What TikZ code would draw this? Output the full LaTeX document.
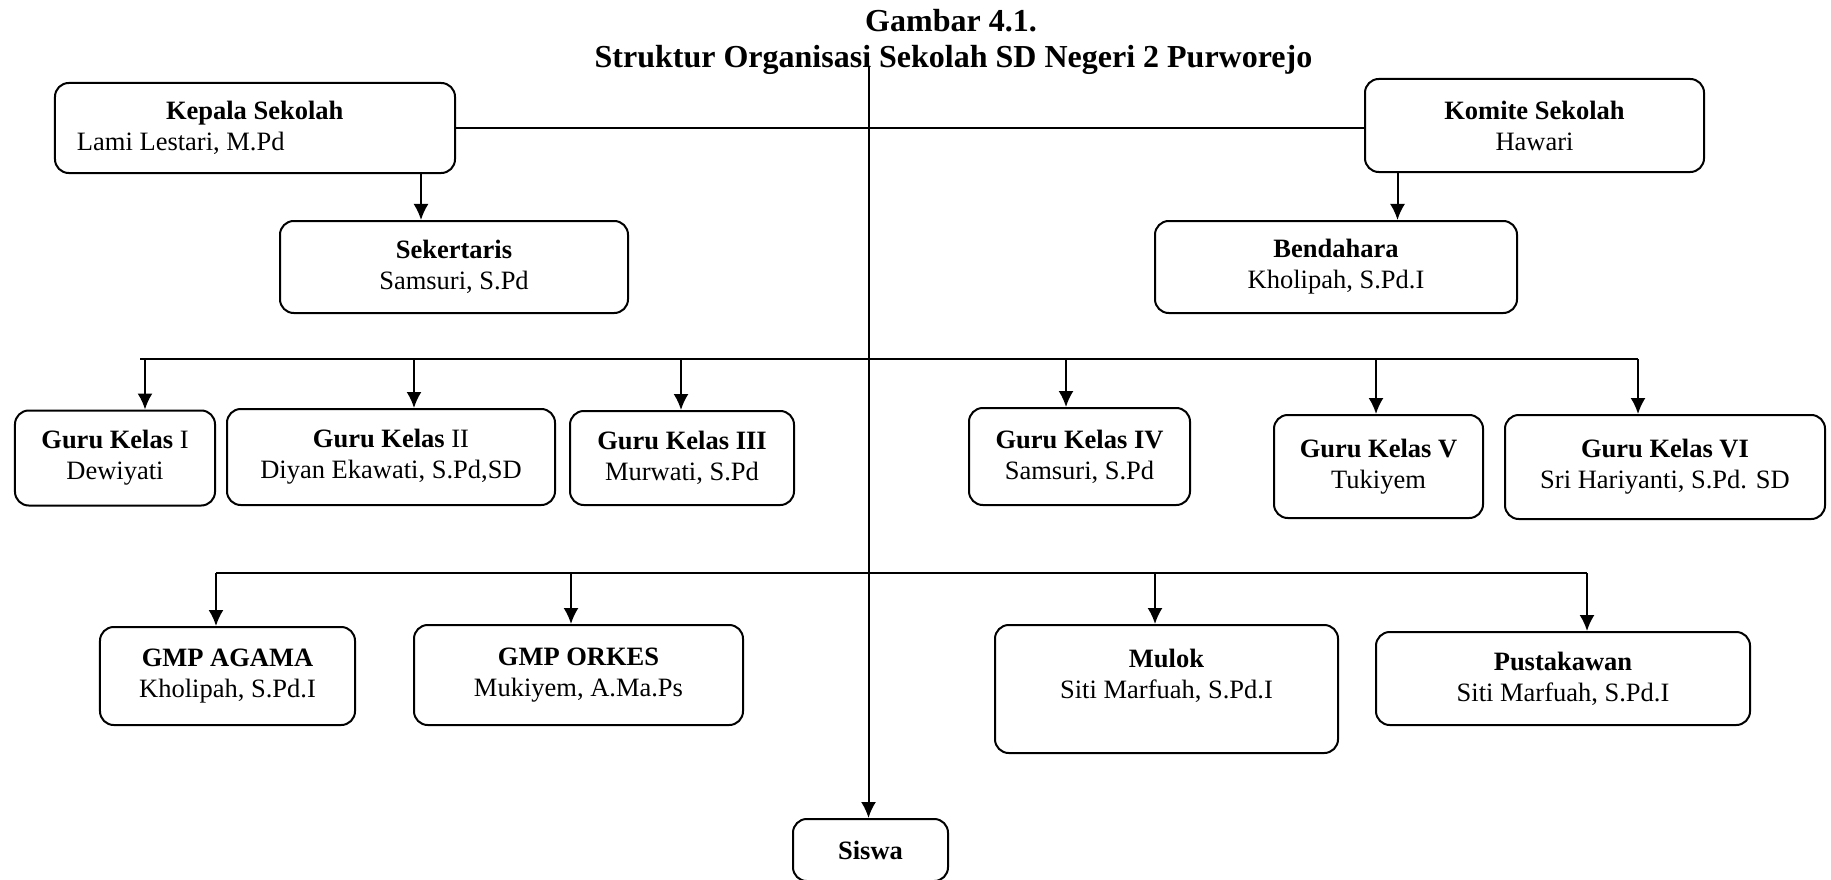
\documentclass[tikz,border=0pt]{standalone}
\usepackage{fontspec}
\setmainfont{Liberation Serif}
\usetikzlibrary{arrows.meta}

\tikzset{
  unit/.style={draw, line width=0.8pt, rounded corners=5.5pt, align=center, inner sep=0pt,
    font=\fontsize{10.6}{12.4}\selectfont},
  judul/.style={anchor=base, font=\fontsize{12.8}{15}\selectfont\bfseries},
  link/.style={line width=0.8pt},
  arr/.style={line width=0.8pt, -{Latex[length=6.4pt,width=6pt]}},
}

\begin{document}
\begin{tikzpicture}[x=0.4pt,y=-0.4pt]
    \clip (0,0) rectangle (1831,879);

    \node[judul] (judul1) at (951,32) {Gambar 4.1.};
    \node[judul] (judul2) at (953.5,68) {Struktur Organisasi Sekolah SD Negeri 2 Purworejo};

    \node[unit, minimum width=160pt, minimum height=36pt, align=flush left, text width=142.4pt] (kepala) at (255,128)
        {\hspace*{35.6pt}\textbf{Kepala Sekolah}\\Lami Lestari, M.Pd};
    \node[unit, minimum width=135.6pt, minimum height=37.2pt] (komite) at (1534.5,125.5)
        {\textbf{Komite Sekolah}\\Hawari};

    \node[unit, minimum width=139.2pt, minimum height=36.8pt] (sekertaris) at (454,267)
        {\textbf{Sekertaris}\\Samsuri, S.Pd};
    \node[unit, minimum width=144.8pt, minimum height=36.8pt] (bendahara) at (1336,267)
        {\textbf{Bendahara}\\Kholipah, S.Pd.I};

    \node[unit, minimum width=80pt, minimum height=38pt] (guru1) at (115,458)
        {\textbf{Guru Kelas} I\\Dewiyati};
    \node[unit, minimum width=131.2pt, minimum height=38.4pt] (guru2) at (391,457)
        {\textbf{Guru Kelas} II\\Diyan Ekawati, S.Pd,SD};
    \node[unit, minimum width=89.6pt, minimum height=37.6pt] (guru3) at (682,458)
        {\textbf{Guru Kelas III}\\Murwati, S.Pd};
    \node[unit, minimum width=88.4pt, minimum height=38.8pt] (guru4) at (1079.5,456.5)
        {\textbf{Guru Kelas IV}\\Samsuri, S.Pd};
    \node[unit, minimum width=83.6pt, minimum height=41.2pt] (guru5) at (1378.5,466.5)
        {\textbf{Guru Kelas V}\\Tukiyem};
    \node[unit, minimum width=128pt, minimum height=41.6pt] (guru6) at (1665,467)
        {\textbf{Guru Kelas VI}\\Sri Hariyanti, S.Pd. SD};

    \node[unit, minimum width=102pt, minimum height=39.2pt] (agama) at (227.5,676)
        {\textbf{GMP AGAMA}\\Kholipah, S.Pd.I};
    \node[unit, minimum width=131.6pt, minimum height=40pt] (orkes) at (578.5,675)
        {\textbf{GMP ORKES}\\Mukiyem, A.Ma.Ps};
    \node[unit, minimum width=137.2pt, minimum height=51.2pt] (mulok) at (1166.5,689)
        {\textbf{Mulok}\\Siti Marfuah, S.Pd.I\\ };
    \node[unit, minimum width=149.6pt, minimum height=37.2pt] (pustakawan) at (1563,678.5)
        {\textbf{Pustakawan}\\Siti Marfuah, S.Pd.I};

    \node[unit, minimum width=62pt, minimum height=24.8pt] (siswa) at (870.5,850) {\textbf{Siswa}};

    % garis pimpinan
    \draw[link] (kepala.east) -- (kepala.east -| komite.west);
    \draw[arr] (421,0 |- kepala.south) -- (421,0 |- sekertaris.north);
    \draw[arr] (1397.5,0 |- komite.south) -- (1397.5,0 |- bendahara.north);

    % garis guru kelas
    \coordinate (g1) at (145,359);
    \coordinate (g2) at (414,359);
    \coordinate (g3) at (681,359);
    \coordinate (g4) at (1066,359);
    \coordinate (g5) at (1376,359);
    \coordinate (g6) at (1638,359);
    \draw[link] (140,359) -- (g6);
    \draw[arr] (g1) -- (g1 |- guru1.north);
    \draw[arr] (g2) -- (g2 |- guru2.north);
    \draw[arr] (g3) -- (g3 |- guru3.north);
    \draw[arr] (g4) -- (g4 |- guru4.north);
    \draw[arr] (g5) -- (g5 |- guru5.north);
    \draw[arr] (g6) -- (g6 |- guru6.north);

    % garis guru mapel
    \coordinate (m1) at (216,573);
    \coordinate (m2) at (571,573);
    \coordinate (m3) at (1155,573);
    \coordinate (m4) at (1587,573);
    \draw[link] (m1) -- (m4);
    \draw[arr] (m1) -- (m1 |- agama.north);
    \draw[arr] (m2) -- (m2 |- orkes.north);
    \draw[arr] (m3) -- (m3 |- mulok.north);
    \draw[arr] (m4) -- (m4 |- pustakawan.north);

    % garis ke siswa
    \coordinate (pusat) at (868.5,66);
    \draw[arr] (pusat) -- (pusat |- siswa.north);
\end{tikzpicture}
\end{document}
